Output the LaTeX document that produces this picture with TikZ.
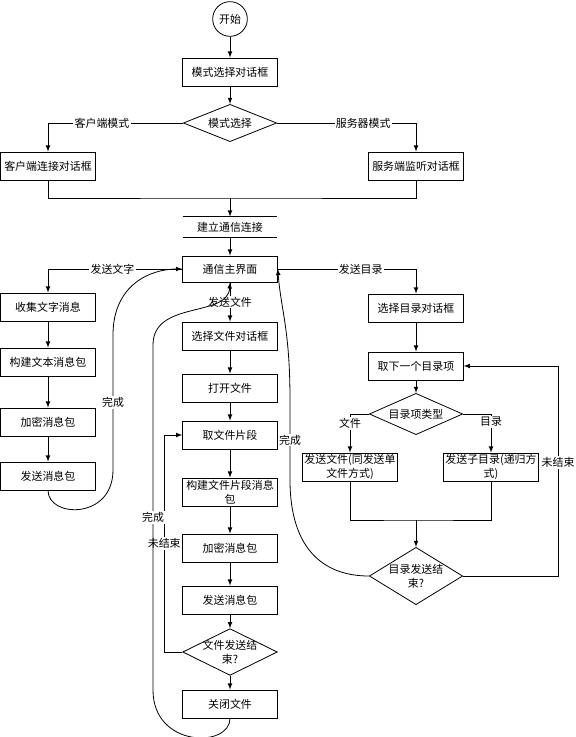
\documentclass[tikz,border=0pt]{standalone}
\usepackage{fontspec}
\setmainfont{Noto Sans CJK SC}
\usetikzlibrary{shapes.geometric}

\begin{document}
\begin{tikzpicture}[x=0.75pt,y=-0.75pt,>=latex,line width=0.6pt,
        font=\fontsize{8.2}{10.5}\selectfont,
        box/.style={draw, minimum width=71pt, minimum height=21pt, inner sep=1pt, align=center},
        decision/.style={diamond, draw, inner sep=0pt},
        lbl/.style={fill=white, inner sep=1pt}]
        \useasboundingbox (0,0) rectangle (575,737);

        % draw the start and the mode selection
        \node[circle, draw, minimum size=26pt, inner sep=0pt] (start) at (230,19) {开始};
        \node[box] (modedlg) at (230,72) {模式选择对话框};
        \node[decision, minimum width=70pt, minimum height=28pt, label=center:模式选择] (mode) at (230,123) {};
        \node[box] (client) at (48,166) {客户端连接对话框};
        \node[box] (server) at (416,166) {服务端监听对话框};
        \coordinate (join) at (230,198);
        \node[minimum width=70pt, minimum height=15pt, inner sep=0pt] (connect) at (230,227) {建立通信连接};
        \draw (connect.north west) -- (connect.north east)
              (connect.south west) -- (connect.south east);
        \node[box, minimum height=19.5pt] (main) at (230,269) {通信主界面};

        \draw[->] (start) -- (modedlg);
        \draw[->] (modedlg) -- (mode);
        \draw[->] (mode.west) -| node[lbl, pos=0.3] {客户端模式} (client.north);
        \draw[->] (mode.east) -| node[lbl, pos=0.31] {服务器模式} (server.north);
        \draw (client.south) |- (join) -| (server.south);
        \draw[->] (join) -- (connect.north);
        \draw[->] (connect.south) -- (main.north);

        % draw the text branch
        \node[box] (collect) at (48,307) {收集文字消息};
        \node[box] (buildtext) at (48,362) {构建文本消息包};
        \node[box] (encrypt1) at (48,422) {加密消息包};
        \node[box] (send1) at (48,476) {发送消息包};

        \draw[->] (main.west) -| node[lbl, pos=0.26] {发送文字} (collect.north);
        \draw[->] (collect) -- (buildtext);
        \draw[->] (buildtext) -- (encrypt1);
        \draw[->] (encrypt1) -- (send1);
        \draw[->] (send1.south) .. controls (48,518) and (113,520) .. (113,470)
              -- node[lbl] {完成} (113,335) .. controls (113,285) and (150,269) .. (main.west);

        % draw the file branch
        \node[box] (choosefile) at (230,336) {选择文件对话框};
        \node[box] (openfile) at (230,388) {打开文件};
        \node[box] (getpiece) at (230,435) {取文件片段};
        \node[box] (buildpiece) at (230,492) {构建文件片段消息\\包};
        \node[box] (encrypt2) at (230,548) {加密消息包};
        \node[box] (send2) at (230,600) {发送消息包};
        \node[decision, minimum width=71pt, minimum height=35pt,
              label={[align=center]center:文件发送结\\束?}] (fileend) at (230,652) {};
        \node[box] (closefile) at (230,704) {关闭文件};

        \draw[->] (main.south) -- node[lbl] {发送文件} (choosefile.north);
        \draw[->] (choosefile) -- (openfile);
        \draw[->] (openfile) -- (getpiece);
        \draw[->] (getpiece) -- (buildpiece);
        \draw[->] (buildpiece) -- (encrypt2);
        \draw[->] (encrypt2) -- (send2);
        \draw[->] (send2) -- (fileend);
        \draw[->] (fileend) -- (closefile);
        \draw[->] (fileend.west) -- ++(-18,0) |- node[lbl, pos=0.25] {未结束} (getpiece.west);
        \draw[->] (closefile.south) .. controls (230,748) and (153,748) .. (153,690)
              -- node[lbl] {完成} (153,345) .. controls (153,300) and (228,318) .. (main.south);

        % draw the directory branch
        \node[box] (choosedir) at (416,308) {选择目录对话框};
        \node[box] (nextitem) at (416,366) {取下一个目录项};
        \node[decision, minimum width=70pt, minimum height=31pt, label=center:目录项类型] (itemtype) at (416,414) {};
        \node[box] (sendfile) at (350,467) {发送文件(同发送单\\文件方式)};
        \node[box] (senddir) at (491,467) {发送子目录(递归方\\式)};
        \coordinate (merge) at (416,520);
        \node[decision, minimum width=70pt, minimum height=43pt,
              label={[align=center]center:目录发送结\\束?}] (dirend) at (416,576) {};

        \draw[->] (main.east) -| node[lbl, pos=0.3] {发送目录} (choosedir.north);
        \draw[->] (choosedir) -- (nextitem);
        \draw[->] (nextitem) -- (itemtype);
        \draw[->] (itemtype.west) -| node[lbl, pos=0.62] {文件} (sendfile.north);
        \draw[->] (itemtype.east) -| node[lbl, pos=0.6] {目录} (senddir.north);
        \draw (sendfile.south) |- (merge) -| (senddir.south);
        \draw[->] (merge) -- (dirend.north);
        \draw[->] (dirend.east) -- ++(95,0) |- node[lbl, pos=0.27] {未结束} (nextitem.east);
        \draw[->] (dirend.west) .. controls (320,576) and (290,545) .. (290,480)
              -- node[lbl] {完成} (290,400) .. controls (290,330) and (281,310) .. (main.east);
\end{tikzpicture}
\end{document}
